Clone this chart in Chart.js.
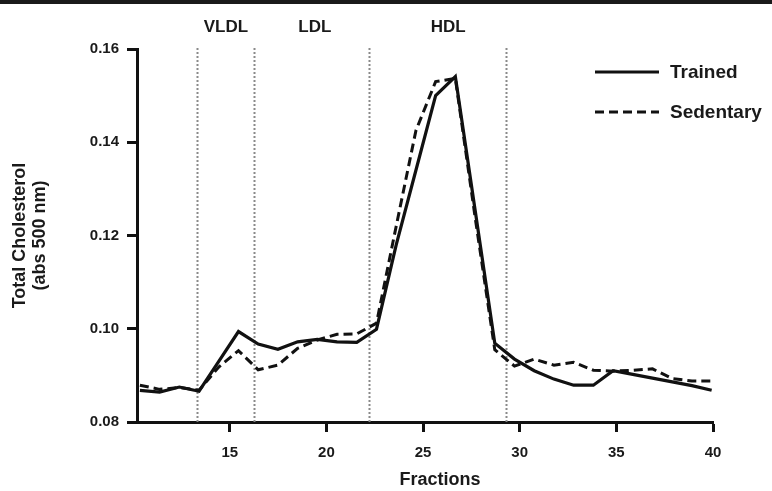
<!DOCTYPE html>
<html>
<head>
<meta charset="utf-8">
<script src="https://cdn.jsdelivr.net/npm/chart.js@4.4.1/dist/chart.umd.min.js"></script>
<style>
  html, body { margin: 0; padding: 0; background: #fff; }
  #wrap { width: 772px; height: 491px; position: relative; }
</style>
</head>
<body>
<div id="wrap"><canvas id="c" width="772" height="491"></canvas></div>
<script>
// Fraction positions (x)
const fractions = [10.35, 11.37, 12.39, 13.41, 14.43, 15.45, 16.47, 17.49, 18.51, 19.53,
                   20.55, 21.57, 22.59, 23.61, 24.63, 25.65, 26.67, 27.69, 28.71, 29.73,
                   30.75, 31.77, 32.79, 33.81, 34.83, 35.85, 36.87, 37.89, 38.91, 39.93];
const trained = [0.0868, 0.0864, 0.0875, 0.0866, 0.0930, 0.0994, 0.0967, 0.0956, 0.0972, 0.0977,
                 0.0972, 0.0971, 0.0999, 0.1180, 0.1340, 0.1500, 0.1541, 0.1255, 0.0969, 0.0935,
                 0.0910, 0.0892, 0.0879, 0.0879, 0.0910, 0.0902, 0.0894, 0.0886, 0.0878, 0.0868];
const sedentary = [0.0879, 0.0870, 0.0874, 0.0868, 0.0918, 0.0953, 0.0912, 0.0922, 0.0958, 0.0976,
                   0.0988, 0.0989, 0.1012, 0.1220, 0.1425, 0.1530, 0.1537, 0.1240, 0.0955, 0.0920,
                   0.0935, 0.0922, 0.0928, 0.0911, 0.0909, 0.0911, 0.0914, 0.0893, 0.0888, 0.0888];
const seriesNames = ['Trained', 'Sedentary'];
const boundaries = [13.29, 16.27, 22.22, 29.29];
const regionNames = ['VLDL', 'LDL', 'HDL'];
const regionCenters = [14.8, 19.4, 26.3];
const yTicks = [0.08, 0.10, 0.12, 0.14, 0.16];
const xTicks = [15, 20, 25, 30, 35, 40];
const xTitle = 'Fractions';
const yTitle = ['Total Cholesterol', '(abs 500 nm)'];

const FONT = '"Liberation Sans", Arial, Helvetica, sans-serif';
const INK = '#1a1a1a';

const pts = (ys) => fractions.map((x, i) => ({ x: x, y: ys[i] }));

const decorPlugin = {
  id: 'decor',
  beforeDraw(chart) {
    const ctx = chart.ctx;
    ctx.save();
    ctx.fillStyle = INK;
    ctx.fillRect(0, 0, chart.width, 4);
    ctx.restore();
  },
  beforeDatasetsDraw(chart) {
    const ctx = chart.ctx;
    const xs = chart.scales.x;
    const top = chart.chartArea.top - 1, bottom = chart.chartArea.bottom;
    ctx.save();
    ctx.strokeStyle = '#8a8a8a';
    ctx.lineWidth = 2;
    ctx.setLineDash([2, 2]);
    boundaries.forEach(b => {
      const px = Math.round(xs.getPixelForValue(b)) + 0.5;
      ctx.beginPath();
      ctx.moveTo(px, top);
      ctx.lineTo(px, bottom);
      ctx.stroke();
    });
    ctx.setLineDash([]);
    ctx.fillStyle = INK;
    ctx.font = 'bold 17px ' + FONT;
    ctx.textAlign = 'center';
    ctx.textBaseline = 'middle';
    regionNames.forEach((n, i) => {
      ctx.fillText(n, xs.getPixelForValue(regionCenters[i]), 27);
    });
    ctx.restore();
  },
  afterDraw(chart) {
    const ctx = chart.ctx;
    const ca = chart.chartArea;
    const r = ca.right;
    ctx.save();
    chart.data.datasets.forEach((ds, i) => {
      const y = 72 + i * 40;
      ctx.strokeStyle = ds.borderColor;
      ctx.lineWidth = ds.borderWidth;
      ctx.setLineDash(ds.borderDash || []);
      ctx.beginPath();
      ctx.moveTo(r - 118, y);
      ctx.lineTo(r - 54, y);
      ctx.stroke();
      ctx.setLineDash([]);
      ctx.fillStyle = INK;
      ctx.font = 'bold 19px ' + FONT;
      ctx.textAlign = 'left';
      ctx.textBaseline = 'middle';
      ctx.fillText(ds.label, r - 43, y + 1);
    });
    // x-axis title
    ctx.fillStyle = INK;
    ctx.font = 'bold 18px ' + FONT;
    ctx.textAlign = 'center';
    ctx.textBaseline = 'middle';
    ctx.fillText(xTitle, (ca.left + ca.right) / 2 + 15, 480);
    ctx.restore();
  }
};

new Chart(document.getElementById('c'), {
  type: 'line',
  data: {
    datasets: [
      { label: seriesNames[0], data: pts(trained), borderColor: '#111', borderWidth: 3.2,
        pointRadius: 0, tension: 0, fill: false },
      { label: seriesNames[1], data: pts(sedentary), borderColor: '#111', borderWidth: 3,
        borderDash: [9, 5], pointRadius: 0, tension: 0, fill: false }
    ]
  },
  options: {
    responsive: false,
    animation: false,
    devicePixelRatio: 1,
    layout: { padding: { top: 49, right: 59, left: 0, bottom: 0 } },
    plugins: { legend: { display: false }, tooltip: { enabled: false } },
    scales: {
      x: {
        type: 'linear',
        min: 10.2, max: 40,
        afterFit(s) { s.height = 69; },
        afterBuildTicks(s) { s.ticks = xTicks.map(v => ({ value: v })); },
        ticks: { font: { family: FONT, size: 15, weight: 'bold' }, color: INK, padding: 12,
                 maxRotation: 0, autoSkip: false, callback: v => String(v) },
        grid: { drawOnChartArea: false, drawTicks: true, tickLength: 10, tickWidth: 3, color: '#111' },
        border: { display: true, width: 3, color: '#111' },
        title: { display: false }
      },
      y: {
        type: 'linear',
        min: 0.08, max: 0.16,
        afterFit(s) { s.width = 137; },
        afterBuildTicks(s) { s.ticks = yTicks.map(v => ({ value: v })); },
        ticks: { font: { family: FONT, size: 15, weight: 'bold' }, color: INK, padding: 8,
                 callback: v => Number(v).toFixed(2) },
        grid: { drawOnChartArea: false, drawTicks: true, tickLength: 10, tickWidth: 3, color: '#111' },
        border: { display: true, width: 3, color: '#111' },
        title: { display: true, text: yTitle, color: INK,
                 padding: { top: 10, bottom: 0 },
                 font: { family: FONT, size: 18, weight: 'bold', lineHeight: '20px' } }
      }
    }
  },
  plugins: [decorPlugin]
});
</script>
</body>
</html>
